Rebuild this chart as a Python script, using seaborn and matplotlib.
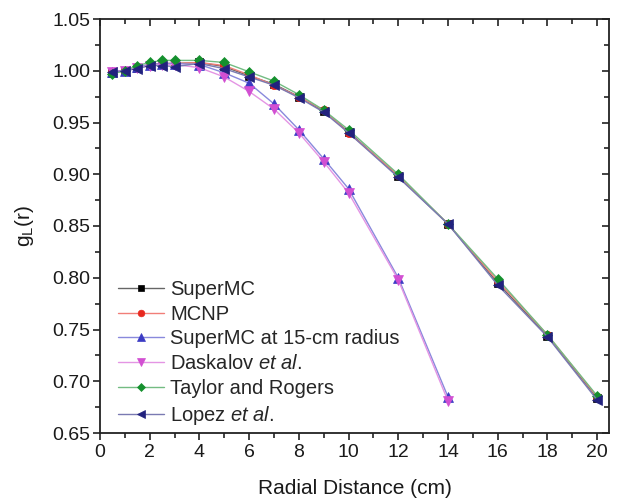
import numpy as np
import pandas as pd
import matplotlib
matplotlib.use("Agg")
import matplotlib.pyplot as plt
import seaborn as sns
from matplotlib.ticker import MultipleLocator, FormatStrFormatter
from matplotlib.colors import to_rgb

# ---- data ----
r_long = [0.5, 1, 1.5, 2, 2.5, 3, 4, 5, 6, 7, 8, 9, 10, 12, 14, 16, 18, 20]
r_short = [0.5, 1, 1.5, 2, 2.5, 3, 4, 5, 6, 7, 8, 9, 10, 12, 14]

supermc = [0.998, 1.000, 1.003, 1.006, 1.007, 1.007, 1.008, 1.004, 0.995, 0.987,
           0.975, 0.961, 0.941, 0.898, 0.852, 0.795, 0.744, 0.684]
mcnp = [0.999, 1.000, 1.003, 1.006, 1.007, 1.007, 1.008, 1.005, 0.996, 0.986,
        0.975, 0.962, 0.940, 0.899, 0.852, 0.797, 0.745, 0.685]
supermc15 = [0.999, 1.000, 1.004, 1.006, 1.007, 1.007, 1.006, 0.998, 0.988, 0.968,
             0.943, 0.915, 0.886, 0.800, 0.685]
daskalov = [0.999, 1.000, 1.003, 1.005, 1.006, 1.006, 1.003, 0.994, 0.980, 0.963,
            0.940, 0.912, 0.882, 0.798, 0.681]
taylor = [0.997, 1.000, 1.005, 1.008, 1.010, 1.010, 1.010, 1.008, 0.999, 0.990,
          0.977, 0.962, 0.943, 0.900, 0.852, 0.799, 0.745, 0.686]
lopez = [0.999, 1.000, 1.002, 1.005, 1.005, 1.004, 1.007, 1.002, 0.994, 0.986,
         0.974, 0.960, 0.940, 0.897, 0.852, 0.793, 0.743, 0.682]

labels = ["SuperMC", "MCNP", "SuperMC at 15-cm radius",
          r"Daskalov $\it{et\ al.}$", "Taylor and Rogers", r"Lopez $\it{et\ al.}$"]
xs = [r_long, r_long, r_short, r_short, r_long, r_long]
ys = [supermc, mcnp, supermc15, daskalov, taylor, lopez]
colors = ["#000000", "#e8281e", "#3b3bc4", "#d24fd2", "#15902e", "#22227e"]
markers = ["s", "o", "^", "v", "D", "<"]
msizes = [5.5, 6, 6.5, 6.5, 5.5, 6.5]

sns.set_style("ticks")
plt.rcParams['font.family'] = ['Liberation Sans', 'DejaVu Sans']
plt.rcParams['mathtext.fontset'] = 'custom'
plt.rcParams['mathtext.rm'] = 'Liberation Sans'
plt.rcParams['mathtext.it'] = 'Liberation Sans:italic'

fig = plt.figure(figsize=(6.2, 5.01), dpi=100)
ax = fig.add_axes([100/620, 1-433/501, 509/620, 414/501])


def lighten(c, f=0.4):
    rgb = np.array(to_rgb(c))
    return tuple(rgb + (1 - rgb) * f)


for x, y, lab, c, m, ms in zip(xs, ys, labels, colors, markers, msizes):
    df = pd.DataFrame({"r": x, "g": y})
    sns.lineplot(data=df, x="r", y="g", ax=ax, color=lighten(c), lw=1.0,
                 marker=m, markersize=ms, markerfacecolor=c, markeredgecolor=c,
                 markeredgewidth=0.5, label=lab)

ax.set_xlim(0, 20.48)
ax.set_ylim(0.65, 1.05)
ax.xaxis.set_major_locator(MultipleLocator(2))
ax.xaxis.set_minor_locator(MultipleLocator(1))
ax.yaxis.set_major_locator(MultipleLocator(0.05))
ax.yaxis.set_minor_locator(MultipleLocator(0.025))
ax.yaxis.set_major_formatter(FormatStrFormatter("%.2f"))

for s in ax.spines.values():
    s.set_linewidth(1.3)
    s.set_color("#222222")
ax.tick_params(which="both", direction="out", width=1.2, color="#222222",
               labelsize=14, labelcolor="#1a1a1a")
ax.tick_params(which="major", length=5)
ax.tick_params(which="minor", length=3.5)
ax.tick_params(which="both", top=True, right=True)
ax.tick_params(which="both", axis="x", pad=3)
ax.tick_params(which="both", axis="y", pad=2)
# mirrored ticks on top/right point inward
for t in ax.xaxis.get_major_ticks() + ax.xaxis.get_minor_ticks():
    t.tick2line.set_marker(matplotlib.lines.TICKDOWN)
for t in ax.yaxis.get_major_ticks() + ax.yaxis.get_minor_ticks():
    t.tick2line.set_marker(matplotlib.lines.TICKLEFT)

ax.set_xlabel("Radial Distance (cm)", fontsize=15, labelpad=13, color="#1a1a1a")
ax.set_ylabel(r"g$_\mathregular{L}$(r)", fontsize=15, labelpad=12, color="#1a1a1a")

leg = ax.legend(loc="lower left", frameon=False, fontsize=14.5, markerscale=0.8,
                handlelength=2.3, handletextpad=0.3, labelspacing=0.29,
                bbox_to_anchor=(10/509, -2/414), borderaxespad=0.0)

fig.savefig("out.png", dpi=100)
